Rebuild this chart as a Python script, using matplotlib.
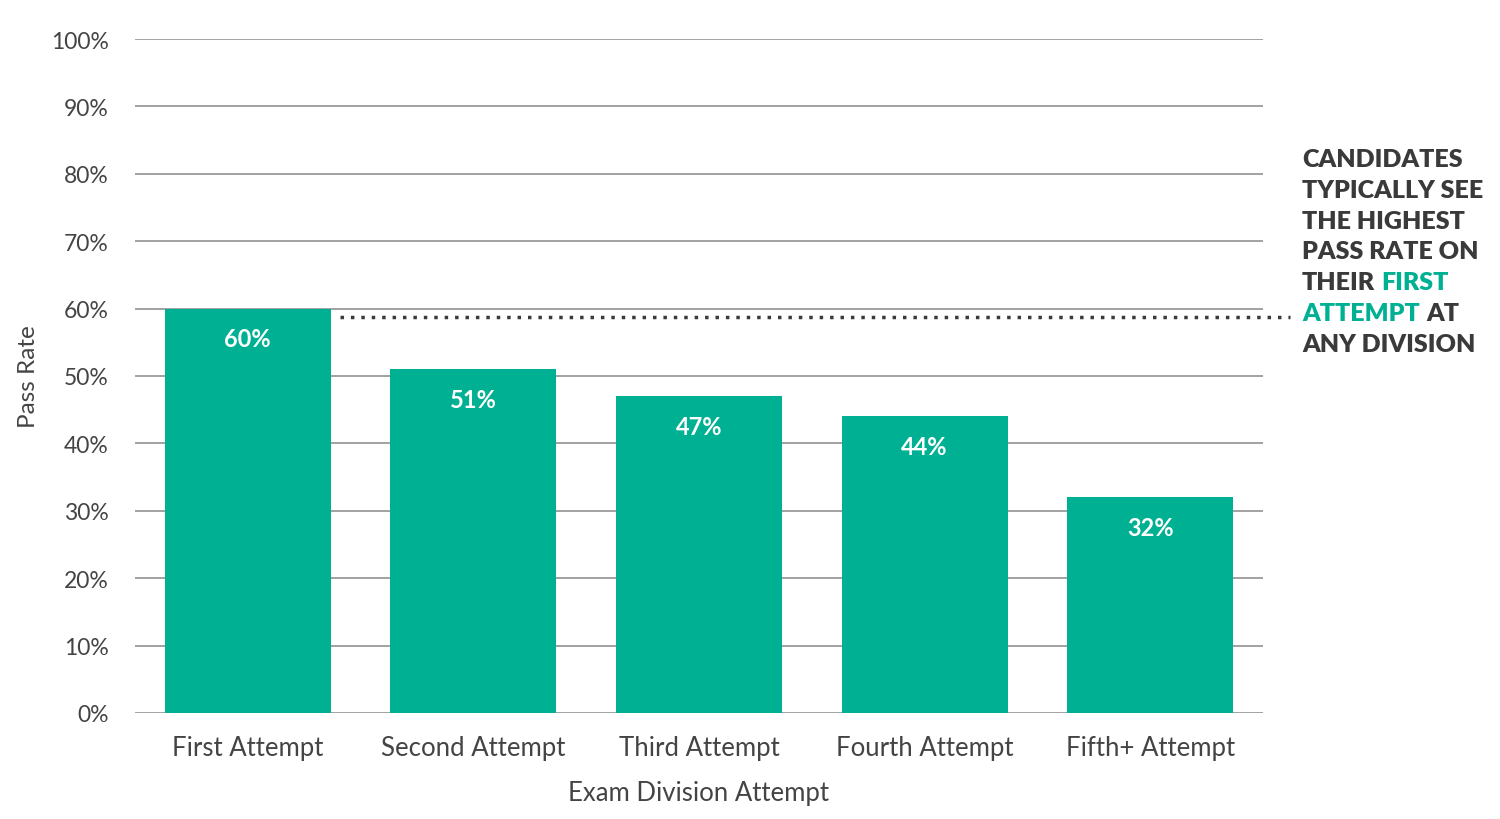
import matplotlib
matplotlib.use("Agg")
from matplotlib import pyplot as plt

categories = ["First Attempt", "Second Attempt", "Third Attempt", "Fourth Attempt", "Fifth+ Attempt"]
pass_rates = [60, 51, 47, 44, 32]
y_ticks = [0, 10, 20, 30, 40, 50, 60, 70, 80, 90, 100]

green = "#00b092"
dark = "#3a3a3a"
grid_col = "#9a9a9a"

plt.rcParams['font.family'] = ['Lato', 'DejaVu Sans']

fig = plt.figure(figsize=(15, 8.2), dpi=100)
ax = fig.add_axes([0.09, 0.1293, 0.752, 0.8219])

x = list(range(len(categories)))
ax.bar(x, pass_rates, width=0.736, color=green, zorder=3)

# value labels inside bars
for xi, v in zip(x, pass_rates):
    ax.annotate(f"{v}%", xy=(xi, v), xytext=(0, -21.5), textcoords="offset points",
                ha="center", va="center", color="white", fontsize=17, fontweight="bold", zorder=4)

ax.set_xlim(-0.5, len(categories) - 0.5)
ax.set_ylim(0, 100)
ax.set_yticks(y_ticks)
ax.set_yticklabels([f"{t}%" for t in y_ticks])
ax.set_xticks(x)
ax.set_xticklabels(categories)
ax.tick_params(axis="y", length=0, pad=19, labelsize=16.5, labelcolor="#444444")
ax.tick_params(axis="x", length=0, pad=16, labelsize=18.5, labelcolor="#444444")
for s in ax.spines.values():
    s.set_visible(False)
ax.grid(axis="y", color=grid_col, linewidth=1.3, zorder=0)
ax.set_axisbelow(True)

ax.set_xlabel("Exam Division Attempt", fontsize=18.5, color="#444444", labelpad=14)
ax.set_ylabel("Pass Rate", fontsize=17.5, color="#444444")
ax.yaxis.set_label_coords(-0.085, 0.5)

# dotted reference line from first bar to annotation
ax.plot([0.41, 4.62], [58.8, 58.8], linestyle=(0, (1, 2.0)), color=dark,
        linewidth=2.5, clip_on=False, zorder=5)

# annotation on the right
lines = [
    [("CANDIDATES", dark)],
    [("TYPICALLY SEE", dark)],
    [("THE HIGHEST", dark)],
    [("PASS RATE ON", dark)],
    [("THEIR", dark), ("FIRST", green)],
    [("ATTEMPT", green), ("AT", dark)],
    [("ANY DIVISION", dark)],
]
x0 = 1302 / 1500
y0 = 1 - 160 / 820
dy = 30.8 / 820
for i, parts in enumerate(lines):
    prev = None
    for txt, col in parts:
        if prev is None:
            prev = fig.text(x0, y0 - i * dy, txt, color=col, fontsize=18,
                            fontweight="heavy", ha="left", va="center")
        else:
            prev = ax.annotate(txt, xy=(1, 0.5), xycoords=prev, xytext=(4.5, 0),
                               textcoords="offset points", ha="left", va="center",
                               color=col, fontsize=18, fontweight="heavy",
                               annotation_clip=False)

fig.savefig("out.png", dpi=100)
